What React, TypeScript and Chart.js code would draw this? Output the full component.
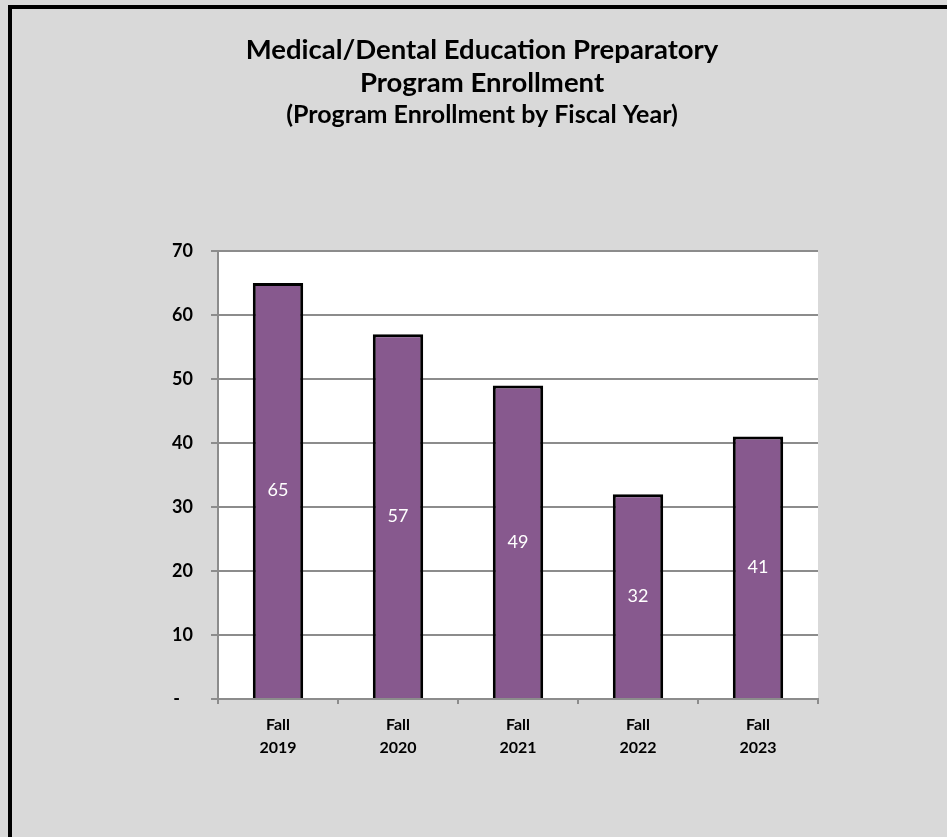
import React, { useEffect, useRef } from "react";
import { Chart, registerables } from "chart.js";

Chart.register(...registerables);

const categories: string[][] = [
  ["Fall", "2019"],
  ["Fall", "2020"],
  ["Fall", "2021"],
  ["Fall", "2022"],
  ["Fall", "2023"],
];
const enrollment: number[] = [65, 57, 49, 32, 41];
const yTicks: number[] = [0, 10, 20, 30, 40, 50, 60, 70];
const titleLines: string[] = ["Medical/Dental Education Preparatory", "Program Enrollment"];
const subtitleText = "(Program Enrollment by Fiscal Year)";

const FONT = "Lato, 'Open Sans', sans-serif";
const W = 947;
const H = 837;

const backgroundPlugin = {
  id: "bgPlugin",
  beforeDraw(chart: any) {
    const ctx = chart.ctx;
    ctx.save();
    ctx.fillStyle = "#d9d9d9";
    ctx.fillRect(0, 0, W, H);
    ctx.fillStyle = "#000000";
    ctx.fillRect(8, 5, W - 8, 4);
    ctx.fillRect(8, 5, 4, H - 5);
    const a = chart.chartArea;
    ctx.fillStyle = "#ffffff";
    ctx.fillRect(a.left, a.top, a.right - a.left, a.bottom - a.top);
    ctx.restore();
  },
};

const valueLabelPlugin = {
  id: "valueLabels",
  afterDatasetsDraw(chart: any) {
    const ctx = chart.ctx;
    const meta = chart.getDatasetMeta(0);
    const data = chart.data.datasets[0].data as number[];
    ctx.save();
    ctx.fillStyle = "#ffffff";
    ctx.font = `400 18px ${FONT}`;
    ctx.textAlign = "center";
    ctx.textBaseline = "middle";
    meta.data.forEach((el: any, i: number) => {
      const p = el.getProps(["x", "y", "base"], true);
      ctx.fillText(String(data[i]), p.x, (p.y + p.base) / 2);
    });
    ctx.restore();
  },
};

export default function App() {
  const ref = useRef<HTMLCanvasElement | null>(null);
  useEffect(() => {
    if (!ref.current) return;
    const chart = new Chart(ref.current, {
      type: "bar",
      data: {
        labels: categories,
        datasets: [
          {
            data: enrollment,
            backgroundColor: "#87598e",
            borderColor: "#000000",
            borderWidth: 3,
            barPercentage: 0.42,
            categoryPercentage: 1,
          },
        ],
      },
      options: {
        responsive: false,
        animation: false,
        devicePixelRatio: 1,
        layout: { padding: { left: 17, top: 9, right: 0, bottom: 0 } },
        plugins: {
          legend: { display: false },
          tooltip: { enabled: false },
          title: {
            display: true,
            text: titleLines,
            color: "#000000",
            font: { family: FONT, size: 27.5, weight: "bold", lineHeight: "33px" as any },
            padding: { top: 24.5, bottom: 0.5 },
          },
          subtitle: {
            display: true,
            text: subtitleText,
            color: "#000000",
            font: { family: FONT, size: 25, weight: "bold", lineHeight: "30px" as any },
            padding: { top: 0, bottom: 121 },
          },
        },
        scales: {
          x: {
            offset: true,
            grid: {
              display: true,
              offset: true,
              drawOnChartArea: false,
              drawTicks: true,
              tickLength: 5,
              color: "#8c8c8c",
              lineWidth: 2,
            },
            border: { display: true, color: "#8c8c8c", width: 2 },
            ticks: {
              color: "#000000",
              font: { family: FONT, size: 16, weight: "bold", lineHeight: "23px" as any },
              padding: 9,
              maxRotation: 0,
              autoSkip: false,
            },
            afterFit(scale: any) {
              scale.height = H - 699;
            },
          },
          y: {
            min: 0,
            max: 70,
            afterBuildTicks(scale: any) {
              scale.ticks = yTicks.map((v) => ({ value: v }));
            },
            grid: {
              color: "#8c8c8c",
              lineWidth: 2,
              tickLength: 7,
              drawTicks: true,
            },
            border: { display: true, color: "#8c8c8c", width: 2 },
            ticks: {
              color: "#000000",
              font: { family: FONT, size: 18, weight: "bold" },
              padding: 18,
              callback: (v: any) => (Number(v) === 0 ? "-   " : String(v)),
            },
            afterFit(scale: any) {
              scale.width = 218 - 17;
            },
          },
          y2: {
            position: "right",
            display: true,
            min: 0,
            max: 70,
            grid: { display: false, drawTicks: false },
            border: { display: false },
            ticks: { display: false },
            afterFit(scale: any) {
              scale.width = W - 818;
            },
          },
        },
      },
      plugins: [backgroundPlugin, valueLabelPlugin],
    });
    return () => chart.destroy();
  }, []);
  return (
    <div style={{ position: "absolute", left: 0, top: 0, width: W, height: H }}>
      <canvas ref={ref} width={W} height={H} style={{ display: "block", width: W, height: H }} />
    </div>
  );
}
